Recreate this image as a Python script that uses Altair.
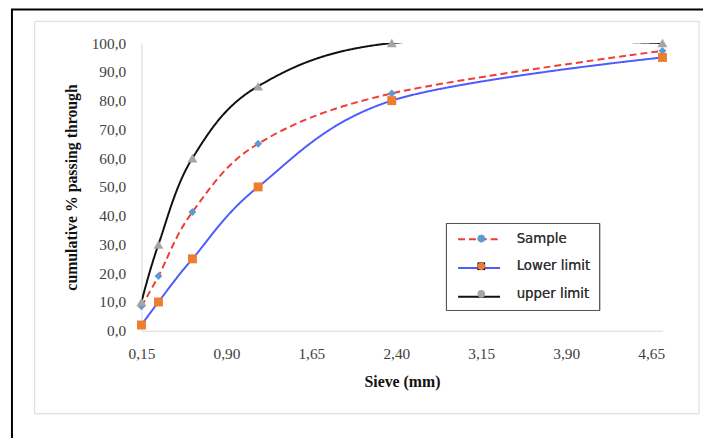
import altair as alt
import pandas as pd

# ---- data ----
sieve = [0.15, 0.30, 0.60, 1.18, 2.36, 4.75]
sample = [8.5, 19.0, 41.3, 65.0, 82.5, 97.3]
lower_limit = [2.0, 10.0, 25.0, 50.0, 80.0, 95.0]
upper_limit = [10.0, 30.0, 60.0, 85.0, 100.0, 100.0]
series_names = ["Sample", "Lower limit", "upper limit"]
x_ticks = [0.15, 0.90, 1.65, 2.40, 3.15, 3.90, 4.65]
y_ticks = [0, 10, 20, 30, 40, 50, 60, 70, 80, 90, 100]

rows = []
for name, vals in zip(series_names, [sample, lower_limit, upper_limit]):
    for s, v in zip(sieve, vals):
        rows.append({"sieve": s, "pct": v, "series": name, "marker": name})
df = pd.DataFrame(rows)

line_colors = ["#EF3E36", "#4D5BFF", "#111111"]
marker_colors = ["#5B9BD5", "#ED7D31", "#A5A5A5"]
dashes = [[7, 4], [1, 0], [1, 0]]
shapes = ["diamond", "square", "triangle-up"]

W, H = 527, 291
LEG_X, LEG_Y = 308, 182

x_enc = alt.X("sieve:Q",
              scale=alt.Scale(domain=[0.15, 4.75], nice=False, zero=False),
              axis=alt.Axis(values=x_ticks, title="Sieve (mm)",
                            labelExpr="replace(format(datum.value, '.2f'), '.', ',')",
                            labelFlush=False, labelOverlap=False,
                            labelPadding=16, titlePadding=12))
y_enc = alt.Y("pct:Q",
              scale=alt.Scale(domain=[0, 100], nice=False),
              axis=alt.Axis(values=y_ticks, title="cumulative % passing through",
                            labelExpr="replace(format(datum.value, '.1f'), '.', ',')",
                            labelFlush=False, labelOverlap=False,
                            labelPadding=16, titlePadding=12))

# legend of the line strokes (no labels, no box)
line_legend = alt.Legend(title=None, orient="none", legendX=LEG_X + 3, legendY=LEG_Y - 14,
                         direction="vertical", symbolType="stroke", symbolSize=1800,
                         symbolStrokeWidth=2, labelFont="DejaVu Sans", labelFontSize=13.5,
                         labelExpr="''", labelOffset=15, rowPadding=-15, padding=8)
# legend of the markers, with the labels and the box
point_legend = alt.Legend(title=None, orient="none", legendX=LEG_X, legendY=LEG_Y,
                          direction="vertical", symbolSize=60, symbolStrokeWidth=0,
                          symbolOffset=20,
                          labelFont="DejaVu Sans", labelFontSize=13.5,
                          labelColor="#333333", labelOffset=29, rowPadding=13, padding=9,
                          strokeColor="#555555")

lines = alt.Chart(df).mark_line(interpolate="cardinal", strokeWidth=2, clip=True).encode(
    x=x_enc, y=y_enc,
    color=alt.Color("series:N", sort=series_names,
                    scale=alt.Scale(domain=series_names, range=line_colors), legend=line_legend),
    strokeDash=alt.StrokeDash("series:N", sort=series_names,
                              scale=alt.Scale(domain=series_names, range=dashes), legend=line_legend),
)

points = alt.Chart(df).mark_point(filled=True, opacity=1).encode(
    x=x_enc, y=y_enc,
    fill=alt.Fill("marker:N", sort=series_names,
                  scale=alt.Scale(range=marker_colors), legend=point_legend),
    shape=alt.Shape("marker:N", sort=series_names,
                    scale=alt.Scale(range=shapes), legend=point_legend),
    size=alt.Size("marker:N", sort=series_names,
                  scale=alt.Scale(range=[64, 100, 81]), legend=None),
)

frame_data = alt.Data(values=[{}])
grey_frame = alt.Chart(frame_data).mark_rect(filled=False, stroke="#D9D9D9", strokeWidth=1).encode(
    x=alt.value(-108), x2=alt.value(564), y=alt.value(-22), y2=alt.value(375))
black_frame = alt.Chart(frame_data).mark_rect(filled=False, stroke="#000000", strokeWidth=2).encode(
    x=alt.value(-131), x2=alt.value(620), y=alt.value(-34), y2=alt.value(460))

chart = alt.layer(black_frame, grey_frame, lines, points).properties(
    width=W, height=H,
    autosize=alt.AutoSizeParams(type="none"),
    padding={"left": 135, "top": 33, "right": 41, "bottom": 106},
).configure_view(stroke=None).configure_axis(
    labelFont="Liberation Serif", labelFontSize=15.5, labelColor="#404040",
    titleFont="Liberation Serif", titleFontSize=16, titleFontWeight="bold", titleColor="#111111",
    domainColor="#D9D9D9", domainWidth=1, ticks=False, tickSize=0, grid=False,
)

chart.save("out.html", embed_options={"renderer": "svg", "actions": False})
